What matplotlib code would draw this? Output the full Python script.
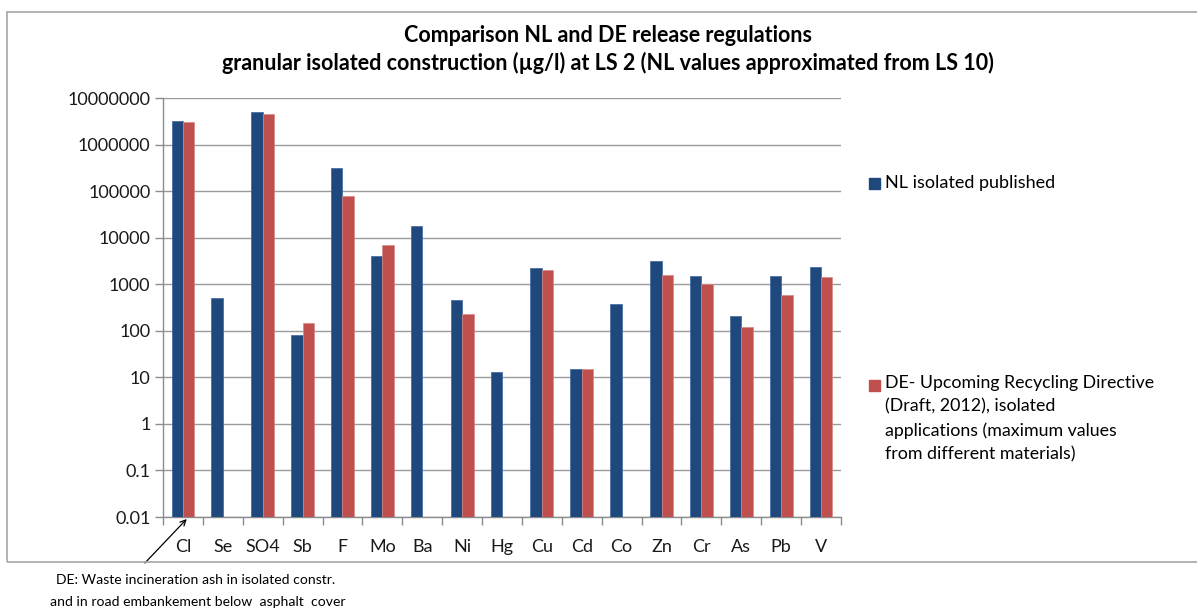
import matplotlib
matplotlib.use("Agg")
import matplotlib.pyplot as plt
import matplotlib.patches as patches
import matplotlib.ticker as ticker
import numpy as np

plt.rcParams['font.family'] = ['Lato', 'DejaVu Sans']

# data (log scale)
elements = ['Cl', 'Se', 'SO4', 'Sb', 'F', 'Mo', 'Ba', 'Ni', 'Hg', 'Cu',
            'Cd', 'Co', 'Zn', 'Cr', 'As', 'Pb', 'V']
nl_values = [3200000, 500, 5000000, 80, 320000, 4000, 18000, 450, 13, 2200,
             15, 380, 3200, 1500, 210, 1500, 2300]
de_values = [3000000, np.nan, 4500000, 150, 80000, 7000, np.nan, 230, np.nan, 2000,
             15, np.nan, 1600, 1000, 120, 600, 1400]
y_ticks = [0.01, 0.1, 1, 10, 100, 1000, 10000, 100000, 1000000, 10000000]
y_labels = ['0.01', '0.1', '1', '10', '100', '1000', '10000', '100000', '1000000', '10000000']

nl_label = 'NL isolated published'
de_label = ('DE- Upcoming Recycling Directive\n(Draft, 2012), isolated\n'
            'applications (maximum values\nfrom different materials)')

blue = '#1F497D'
red = '#C0504D'
grid_grey = '#8C8C8C'

W, H = 1197, 610
fig = plt.figure(figsize=(W / 100, H / 100), dpi=100)

# chart area border
fig.patches.append(patches.Rectangle((7 / W, 1 - 562 / H), 1.2, (562 - 12) / H,
                                     transform=fig.transFigure, fill=False,
                                     edgecolor='#A6A6A6', linewidth=1.2))

ax = fig.add_axes([163 / W, 1 - 517 / H, (841 - 163) / W, (517 - 98) / H])
ax.set_yscale('log')

x = np.arange(len(elements))
bw = 0.286
ax.bar(x - bw / 2, nl_values, bw, color=blue, edgecolor='#3B64A0', linewidth=0.5,
       label=nl_label, zorder=3)
ax.bar(x + bw / 2, de_values, bw, color=red, edgecolor='#D98A88', linewidth=0.5,
       label=de_label, zorder=3)

ax.set_ylim(0.01, 1e7)
ax.set_xlim(-0.5, len(elements) - 0.5)
ax.yaxis.set_major_locator(ticker.FixedLocator(y_ticks))
ax.yaxis.set_minor_locator(ticker.NullLocator())
ax.set_yticklabels(y_labels, fontsize=13, color='#1A1A1A')
ax.grid(axis='y', color='#9A9A9A', linewidth=1.0, zorder=0)

ax.set_xticks(x)
ax.set_xticklabels(elements, fontsize=13, color='#1A1A1A')
ax.tick_params(axis='x', length=0, pad=16)
ax.set_xticks(np.arange(len(elements) + 1) - 0.5, minor=True)
ax.tick_params(axis='x', which='minor', length=6, color=grid_grey, width=1)
ax.tick_params(axis='y', length=6, color=grid_grey, width=1, pad=3)

for s in ['top', 'right']:
    ax.spines[s].set_visible(False)
for s in ['left', 'bottom']:
    ax.spines[s].set_color(grid_grey)
    ax.spines[s].set_linewidth(1.0)

# title
fig.text(608 / W, 1 - 35 / H, 'Comparison NL and DE release regulations',
         ha='center', va='center', fontsize=15.5, fontweight='bold')
fig.text(608 / W, 1 - 63 / H,
         'granular isolated construction (µg/l) at LS 2 (NL values approximated from LS 10)',
         ha='center', va='center', fontsize=15.5, fontweight='bold')

# legend
fig.text(885 / W, 1 - 183 / H, nl_label, ha='left', va='center', fontsize=13)
fig.patches.append(patches.Rectangle((869 / W, 1 - 189 / H), 11 / W, 11 / H,
                                     transform=fig.transFigure, color=blue))
fig.text(885 / W, 1 - 375 / H, de_label, ha='left', va='top', fontsize=12.8,
         linespacing=1.58)
fig.patches.append(patches.Rectangle((869 / W, 1 - 391 / H), 11 / W, 11 / H,
                                     transform=fig.transFigure, color=red))

# annotation
ax.annotate('', xy=(0 + bw / 2, 0.01), xycoords='data',
            xytext=(143, H - 565), textcoords='figure pixels',
            arrowprops=dict(arrowstyle='->', color='black', lw=0.9))
fig.text(196 / W, 1 - 580 / H, 'DE: Waste incineration ash in isolated constr.',
         ha='center', va='center', fontsize=10.1)
fig.text(198 / W, 1 - 602 / H, 'and in road embankement below  asphalt  cover',
         ha='center', va='center', fontsize=10.1)

fig.savefig('out.png', dpi=100)
